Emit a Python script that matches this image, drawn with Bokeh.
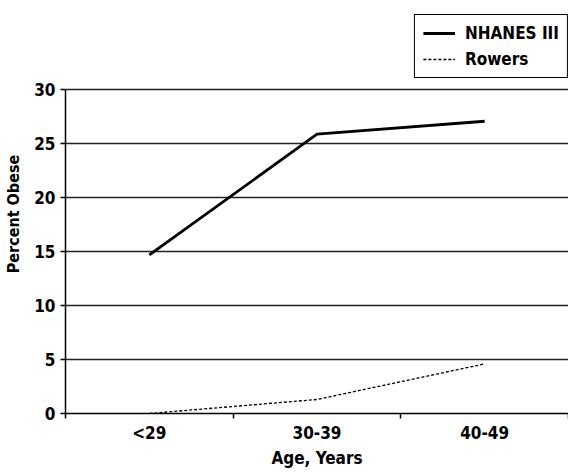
from bokeh.plotting import figure
from bokeh.models import Range1d, FixedTicker, Legend, LegendItem
from bokeh.embed import file_html
from bokeh.resources import INLINE

categories = ["<29", "30-39", "40-49"]
nhanes = [14.7, 25.9, 27.1]
rowers = [0.0, 1.3, 4.6]
y_ticks = [0, 5, 10, 15, 20, 25, 30]

FONT = "DejaVu Sans Condensed"

xs = [i + 0.5 for i in range(len(categories))]

p = figure(width=568, height=470, output_backend="svg", toolbar_location=None,
           x_range=Range1d(0, len(categories)), y_range=Range1d(0, 37.0),
           min_border_left=65, min_border_top=14, min_border_right=0, min_border_bottom=55)
p.outline_line_color = None
p.background_fill_color = "white"

r1 = p.line(xs, nhanes, line_color="black", line_width=2.8)
r2 = p.line(xs, rowers, line_color="black", line_width=1.3, line_dash="3 2")

# x axis
xa = p.xaxis[0]
xa.ticker = FixedTicker(ticks=xs, minor_ticks=list(range(len(categories) + 1)))
xa.major_label_overrides = {x: c for x, c in zip(xs, categories)}
xa.major_tick_out = 0
xa.major_tick_in = 0
xa.minor_tick_out = 5
xa.minor_tick_in = 0
xa.minor_tick_line_color = "black"
xa.minor_tick_line_width = 1.5
xa.axis_line_width = 1.5
xa.axis_line_color = "black"
xa.major_label_text_font = FONT
xa.major_label_text_font_style = "bold"
xa.major_label_text_font_size = "17px"
xa.major_label_text_color = "black"
xa.major_label_standoff = 4
xa.axis_label = "Age, Years"
xa.axis_label_text_font = FONT
xa.axis_label_text_font_style = "bold"
xa.axis_label_text_font_size = "17px"
xa.axis_label_text_color = "black"
xa.axis_label_standoff = 2

# y axis
ya = p.yaxis[0]
ya.ticker = FixedTicker(ticks=y_ticks)
ya.bounds = (0, 30)
ya.major_tick_out = 5
ya.major_tick_in = 0
ya.major_tick_line_width = 1.5
ya.minor_tick_out = 0
ya.minor_tick_in = 0
ya.axis_line_width = 1.5
ya.axis_line_color = "black"
ya.major_label_text_font = FONT
ya.major_label_text_font_style = "bold"
ya.major_label_text_font_size = "17px"
ya.major_label_text_color = "black"
ya.major_label_standoff = 5
ya.axis_label = "Percent Obese"
ya.axis_label_text_font = FONT
ya.axis_label_text_font_style = "bold"
ya.axis_label_text_font_size = "16px"
ya.axis_label_text_color = "black"
ya.axis_label_standoff = 8

p.xgrid.grid_line_color = None
p.ygrid.ticker = FixedTicker(ticks=y_ticks[1:])
p.ygrid.grid_line_color = "#222222"
p.ygrid.grid_line_width = 1.5

legend = Legend(items=[LegendItem(label="NHANES III", renderers=[r1]),
                       LegendItem(label="Rowers", renderers=[r2])],
                location="top_right")
legend.border_line_color = "black"
legend.border_line_alpha = 1.0
legend.border_line_width = 1.5
legend.label_text_font = FONT
legend.label_text_font_style = "bold"
legend.label_text_font_size = "17px"
legend.label_text_color = "black"
legend.glyph_width = 32
legend.glyph_height = 20
legend.label_height = 20
legend.spacing = 6
legend.padding = 8
legend.margin = 0
legend.label_standoff = 10
legend.background_fill_alpha = 1
p.add_layout(legend)

open("out.html", "w").write(file_html(p, INLINE))
